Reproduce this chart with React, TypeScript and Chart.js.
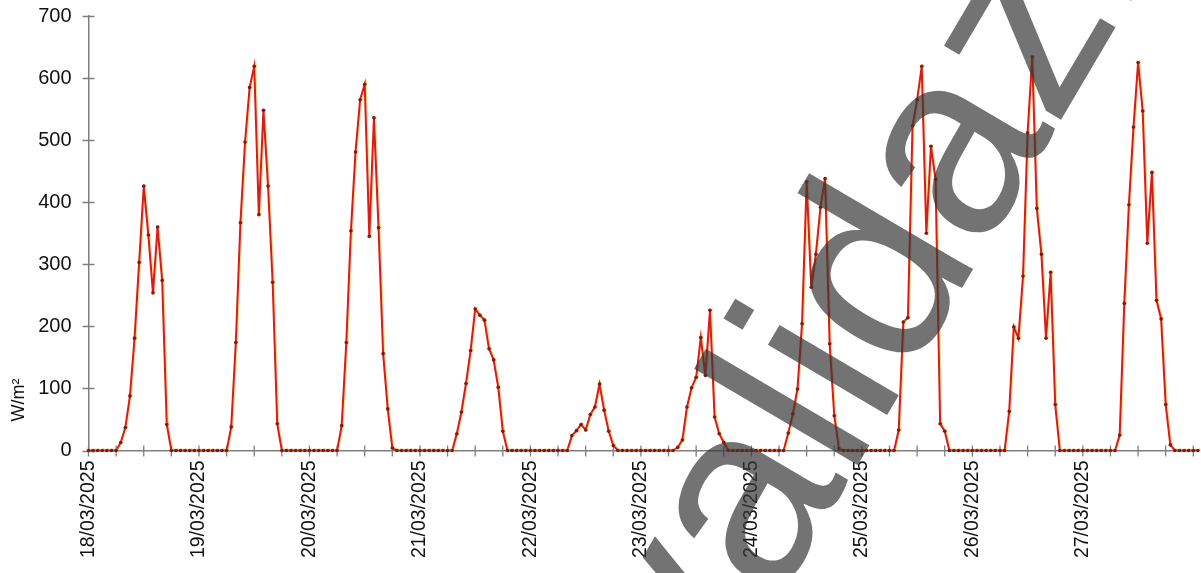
import { useEffect, useRef } from 'react';
import { Chart, registerables } from 'chart.js';

Chart.register(...registerables);

const FONT = "'Liberation Sans', Arial, Helvetica, sans-serif";

// One label per day; the x axis runs in hours from 18/03/2025 00:00
const dateLabels = [
  '18/03/2025', '19/03/2025', '20/03/2025', '21/03/2025', '22/03/2025',
  '23/03/2025', '24/03/2025', '25/03/2025', '26/03/2025', '27/03/2025',
];
const yTicks = [0, 100, 200, 300, 400, 500, 600, 700];
const hoursPerTick = 6;
const unitLabel = 'W/m²';
const watermarkText = 'Invalidazione';

// Hourly irradiance, W/m², one array per day (00:00 … 23:00)
const day18 = [0, 0, 0, 0, 0, 0, 0, 13, 37, 88, 181, 303, 426, 347, 254, 360, 274, 42, 0, 0, 0, 0, 0, 0];
const day19 = [0, 0, 0, 0, 0, 0, 0, 38, 174, 367, 497, 585, 619, 380, 548, 426, 271, 43, 0, 0, 0, 0, 0, 0];
const day20 = [0, 0, 0, 0, 0, 0, 0, 40, 174, 354, 481, 565, 590, 345, 536, 359, 156, 67, 4, 0, 0, 0, 0, 0];
const day21 = [0, 0, 0, 0, 0, 0, 0, 0, 27, 62, 108, 161, 228, 218, 210, 164, 146, 102, 31, 0, 0, 0, 0, 0];
const day22 = [0, 0, 0, 0, 0, 0, 0, 0, 0, 24, 32, 42, 33, 58, 70, 107, 65, 31, 8, 0, 0, 0, 0, 0];
const day23 = [0, 0, 0, 0, 0, 0, 0, 0, 5, 17, 70, 101, 118, 182, 121, 226, 54, 27, 13, 0, 0, 0, 0, 0];
const day24 = [0, 0, 0, 0, 0, 0, 0, 0, 28, 59, 99, 204, 433, 263, 316, 392, 438, 172, 56, 3, 0, 0, 0, 0];
const day25 = [0, 0, 0, 0, 0, 0, 0, 0, 33, 207, 214, 523, 565, 619, 350, 490, 437, 43, 31, 0, 0, 0, 0, 0];
const day26 = [0, 0, 0, 0, 0, 0, 0, 0, 63, 199, 181, 281, 512, 634, 390, 316, 181, 287, 74, 0, 0, 0, 0, 0];
const day27 = [0, 0, 0, 0, 0, 0, 0, 0, 25, 237, 396, 521, 625, 547, 334, 448, 242, 212, 74, 9, 0, 0, 0, 0];
const day28 = [0, 0];

const hourly = [
  ...day18, ...day19, ...day20, ...day21, ...day22,
  ...day23, ...day24, ...day25, ...day26, ...day27, ...day28,
];

const W = 1201;
const H = 573;

// Short tick marks that cross both axes
const crossTicks = {
  id: 'crossTicks',
  beforeDatasetsDraw(chart: any) {
    const { ctx, chartArea, scales } = chart;
    const x = scales.x;
    const y = scales.y;
    ctx.save();
    ctx.strokeStyle = '#7f7f7f';
    ctx.lineWidth = 1.3;
    ctx.beginPath();
    for (const v of yTicks) {
      const py = Math.round(y.getPixelForValue(v)) + 0.5;
      ctx.moveTo(chartArea.left - 6, py);
      ctx.lineTo(chartArea.left + 6, py);
    }
    for (let h = 0; h <= dateLabels.length * 24 + 24; h += hoursPerTick) {
      const px = x.getPixelForValue(h);
      if (px > chartArea.right + 1) break;
      ctx.moveTo(px, chartArea.bottom - 5);
      ctx.lineTo(px, chartArea.bottom + 6);
    }
    ctx.stroke();
    ctx.restore();
  },
};

// Thin amber edge alongside the red trace
const traceEdge = {
  id: 'traceEdge',
  beforeDatasetDraw(chart: any) {
    const { ctx } = chart;
    ctx.save();
    ctx.shadowColor = 'rgba(240,180,40,0.45)';
    ctx.shadowOffsetX = 1.2;
    ctx.shadowOffsetY = -0.4;
    ctx.shadowBlur = 0;
  },
  afterDatasetDraw(chart: any) {
    chart.ctx.restore();
  },
};

// Axis unit and the diagonal stamp across the plot
const overlays = {
  id: 'overlays',
  afterDraw(chart: any) {
    const { ctx } = chart;
    ctx.save();
    ctx.font = `18px ${FONT}`;
    ctx.fillStyle = '#111';
    ctx.textAlign = 'center';
    ctx.textBaseline = 'middle';
    ctx.translate(19, 400);
    ctx.rotate(-Math.PI / 2);
    ctx.fillText(unitLabel, 0, 0);
    ctx.restore();

    ctx.save();
    ctx.font = `262px ${FONT}`;
    const prefixW = ctx.measureText('Inval').width;
    const iW = ctx.measureText('i').width;
    ctx.translate(893, 405);
    ctx.rotate((-59.5 * Math.PI) / 180);
    ctx.fillStyle = 'rgba(55,55,55,0.7)';
    ctx.textBaseline = 'alphabetic';
    ctx.fillText(watermarkText, -(prefixW + iW / 2), 0);
    ctx.restore();
  },
};

export default function App() {
  const ref = useRef<HTMLCanvasElement | null>(null);

  useEffect(() => {
    if (!ref.current) return;
    const chart = new Chart(ref.current, {
      type: 'line',
      data: {
        datasets: [
          {
            data: hourly.map((v, h) => ({ x: h, y: v })),
            borderColor: '#d81c1a',
            borderWidth: 2,
            pointRadius: 1.8,
            pointBackgroundColor: '#7a1a1a',
            pointBorderWidth: 0,
            tension: 0,
            clip: false as any,
          },
        ],
      },
      options: {
        responsive: false,
        animation: false,
        devicePixelRatio: 1,
        layout: { padding: { top: 16, right: 0, bottom: 0, left: 0 } },
        plugins: { legend: { display: false }, tooltip: { enabled: false } },
        scales: {
          x: {
            type: 'linear',
            min: 0,
            max: 240.8,
            afterBuildTicks(scale: any) {
              const t = [];
              for (let h = 0; h <= 240; h += hoursPerTick) t.push({ value: h });
              scale.ticks = t;
            },
            afterFit(scale: any) {
              scale.height = H - 450.5;
              scale.paddingLeft = 0;
              scale.paddingRight = 0;
            },
            grid: { display: false, drawTicks: false },
            border: { display: true, color: '#7f7f7f', width: 1.5 },
            ticks: {
              autoSkip: false,
              minRotation: 90,
              maxRotation: 90,
              padding: 10,
              color: '#111',
              font: { family: FONT, size: 19.5 },
              callback: (v: any) => (Number(v) % 24 === 0 ? dateLabels[Number(v) / 24] ?? '' : ''),
            },
          },
          y: {
            min: 0,
            max: 700,
            afterBuildTicks(scale: any) {
              scale.ticks = yTicks.map((v) => ({ value: v }));
            },
            afterFit(scale: any) {
              scale.width = 88.5;
              scale.paddingTop = 0;
              scale.paddingBottom = 0;
            },
            grid: { display: false, drawTicks: false },
            border: { display: true, color: '#7f7f7f', width: 1.5 },
            ticks: {
              padding: 17,
              color: '#111',
              font: { family: FONT, size: 20 },
            },
          },
        },
      },
      plugins: [crossTicks, traceEdge, overlays],
    });
    return () => chart.destroy();
  }, []);

  return (
    <canvas
      ref={ref}
      width={W}
      height={H}
      style={{ position: 'fixed', left: 0, top: 0, width: W, height: H, background: '#fff' }}
    />
  );
}
